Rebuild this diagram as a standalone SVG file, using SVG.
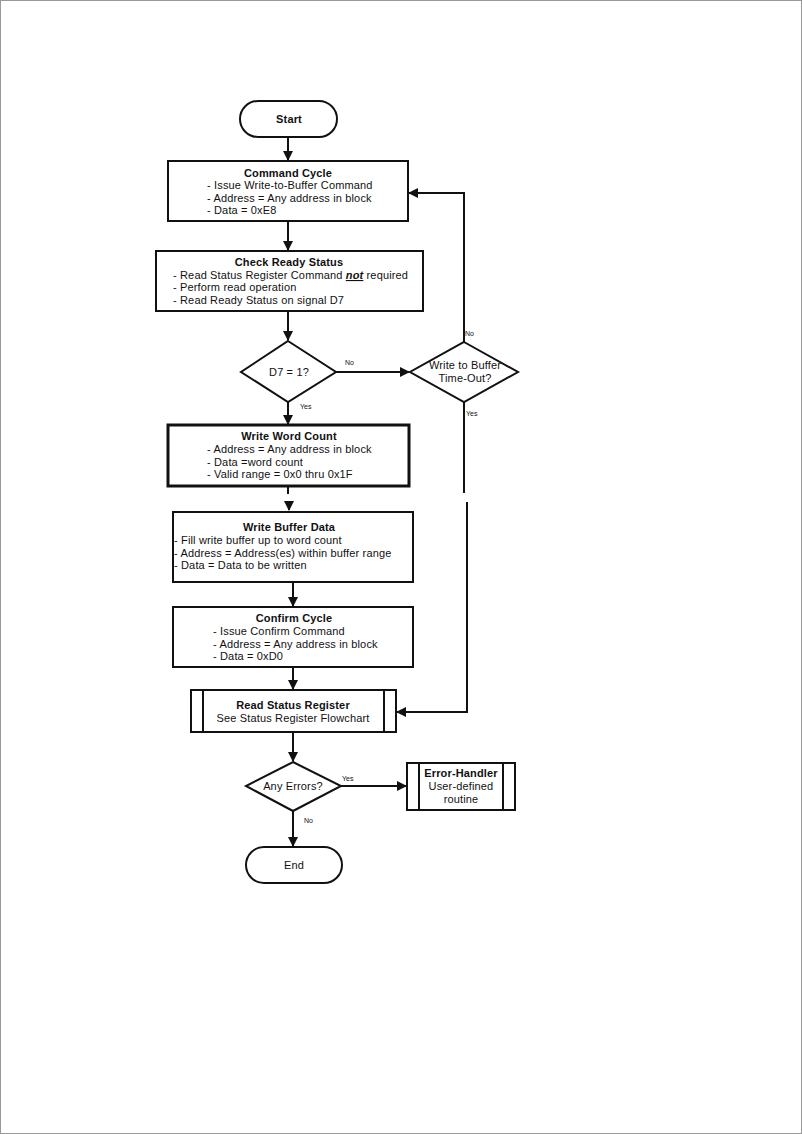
<svg xmlns="http://www.w3.org/2000/svg" width="802" height="1134" viewBox="0 0 802 1134">
<defs>
<style>
text{font-family:"Liberation Sans",Arial,sans-serif;font-size:11px;letter-spacing:0.15px;fill:#111}
.t{font-weight:bold;text-anchor:middle}
.c{text-anchor:middle}
.s{font-size:7px;letter-spacing:0}
.b{fill:#fff;stroke:#111;stroke-width:2}
.l{fill:none;stroke:#111;stroke-width:2}
</style>
<marker id="a" markerWidth="10" markerHeight="10" refX="9" refY="5" orient="auto" markerUnits="userSpaceOnUse">
<path d="M0,0 L10,5 L0,10 z" fill="#111"/>
</marker>
</defs>
<rect x="0" y="0" width="802" height="1134" fill="#fff"/>
<rect x="0.5" y="0.5" width="801" height="1133" fill="none" stroke="#999" stroke-width="1"/>

<g id="connectors">
<path class="l" d="M288,137 V160" marker-end="url(#a)"/>
<path class="l" d="M288,221 V250" marker-end="url(#a)"/>
<path class="l" d="M288,311 V340" marker-end="url(#a)"/>
<path class="l" d="M336,372 H409" marker-end="url(#a)"/>
<path class="l" d="M464,342 V193 H409" marker-end="url(#a)"/>
<path class="l" d="M464,402 V493"/>
<path class="l" d="M467,502 V712 H397" marker-end="url(#a)"/>
<path class="l" d="M288,402 V424" marker-end="url(#a)"/>
<path class="l" d="M288,486 V494"/>
<path class="l" d="M289,502 V510" marker-end="url(#a)"/>
<path class="l" d="M293,582 V606" marker-end="url(#a)"/>
<path class="l" d="M293,667 V689" marker-end="url(#a)"/>
<path class="l" d="M293,732 V761" marker-end="url(#a)"/>
<path class="l" d="M341,786 H406" marker-end="url(#a)"/>
<path class="l" d="M293,811 V846" marker-end="url(#a)"/>
<text class="s" x="345" y="365">No</text>
<text class="s" x="300" y="409">Yes</text>
<text class="s" x="465" y="336">No</text>
<text class="s" x="466" y="416">Yes</text>
<text class="s" x="342" y="781">Yes</text>
<text class="s" x="304" y="823">No</text>
</g>

<g id="start">
<rect class="b" x="240" y="101" width="97" height="36" rx="18"/>
<text class="t" x="289" y="123">Start</text>
</g>

<g id="command-cycle">
<rect class="b" x="168" y="161" width="240" height="60"/>
<text class="t" x="288" y="177">Command Cycle</text>
<text x="207" y="189">- Issue Write-to-Buffer Command</text>
<text x="207" y="202">- Address = Any  address in block</text>
<text x="207" y="214">- Data = 0xE8</text>
</g>

<g id="check-ready">
<rect class="b" x="156" y="251" width="267" height="60"/>
<text class="t" x="289" y="266">Check Ready Status</text>
<text x="173" y="279">- Read Status Register Command <tspan font-weight="bold" font-style="italic" text-decoration="underline">not</tspan> required</text>
<text x="173" y="291">- Perform read operation</text>
<text x="173" y="304">- Read Ready Status on signal D7</text>
</g>

<g id="d7">
<polygon class="b" points="288,341 336,372 288,402 241,372"/>
<text class="c" x="289" y="376">D7 = 1?</text>
</g>

<g id="timeout">
<polygon class="b" points="464,342 518,372 464,402 410,372"/>
<text class="c" x="465" y="369">Write to Buffer</text>
<text class="c" x="465" y="382">Time-Out?</text>
</g>

<g id="word-count">
<rect x="168" y="425" width="241" height="61" fill="#fff" stroke="#111" stroke-width="3"/>
<text class="t" x="289" y="440">Write Word Count</text>
<text x="207" y="453">- Address = Any  address in block</text>
<text x="207" y="466">- Data =word  count</text>
<text x="207" y="478">- Valid range =  0x0 thru 0x1F</text>
</g>

<g id="buffer-data">
<rect class="b" x="173" y="512" width="240" height="70"/>
<text class="t" x="289" y="531">Write Buffer Data</text>
<text x="174" y="544">- Fill write buffer up to word count</text>
<text x="174" y="557">- Address = Address(es) within buffer range</text>
<text x="174" y="569">- Data = Data to be written</text>
</g>

<g id="confirm">
<rect class="b" x="173" y="607" width="240" height="60"/>
<text class="t" x="294" y="622">Confirm Cycle</text>
<text x="213" y="635">- Issue Confirm  Command</text>
<text x="213" y="648">- Address = Any  address in block</text>
<text x="213" y="660">- Data = 0xD0</text>
</g>

<g id="read-status">
<rect class="b" x="191" y="690" width="205" height="42"/>
<path class="l" d="M203,690 V732 M384,690 V732"/>
<text class="t" x="293" y="709">Read Status Register</text>
<text class="c" x="293" y="722">See Status Register Flowchart</text>
</g>

<g id="any-errors">
<polygon class="b" points="293,762 341,786 293,811 246,786"/>
<text class="c" x="293" y="790">Any  Errors?</text>
</g>

<g id="error-handler">
<rect class="b" x="407" y="763" width="108" height="47"/>
<path class="l" d="M419,763 V810 M503,763 V810"/>
<text class="t" x="461" y="777">Error-Handler</text>
<text class="c" x="461" y="790">User-defined</text>
<text class="c" x="461" y="803">routine</text>
</g>

<g id="end">
<rect class="b" x="246" y="847" width="96" height="36" rx="18"/>
<text class="c" x="294" y="869">End</text>
</g>
</svg>
